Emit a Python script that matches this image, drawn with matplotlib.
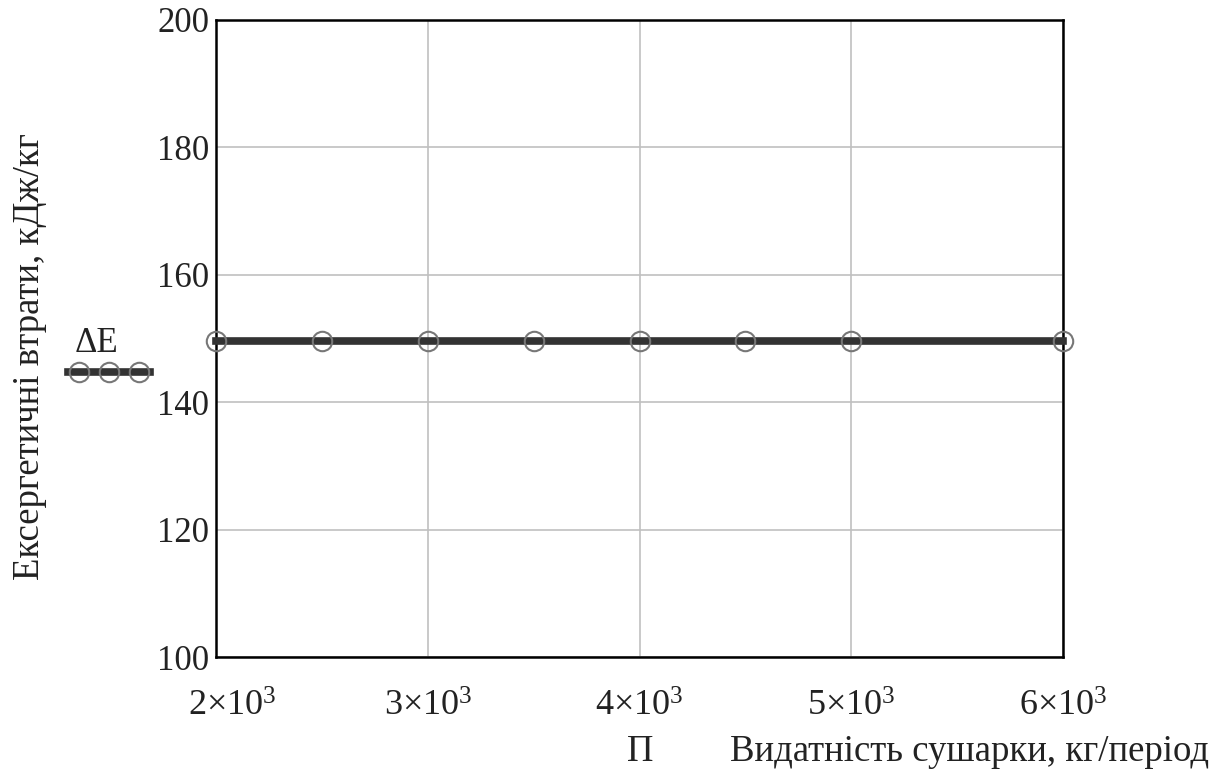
import matplotlib
matplotlib.use("Agg")
import matplotlib.pyplot as plt
from matplotlib.lines import Line2D
import matplotlib.transforms as mtransforms

plt.rcParams['font.family'] = ['Liberation Serif', 'DejaVu Serif']
plt.rcParams['mathtext.fontset'] = 'custom'
plt.rcParams['mathtext.rm'] = 'Liberation Serif'
plt.rcParams['mathtext.it'] = 'Liberation Serif'

# Data
x_vals = [2000, 2500, 3000, 3500, 4000, 4500, 5000, 6000]
dE_vals = [149.6, 149.6, 149.6, 149.6, 149.6, 149.6, 149.6, 149.6]
x_ticks = [2000, 3000, 4000, 5000, 6000]
x_tick_labels = [r'$2{\times}10^{3}$', r'$3{\times}10^{3}$', r'$4{\times}10^{3}$',
                 r'$5{\times}10^{3}$', r'$6{\times}10^{3}$']
y_ticks = [100, 120, 140, 160, 180, 200]
y_label = 'Ексергетичні втрати, кДж/кг'
x_label = 'Видатність сушарки, кг/період'
x_var = 'П'
series_name = 'ΔE'

FS = 25
FSL = 26.5
TXT = '#222222'

fig = plt.figure(figsize=(12.21, 7.76), dpi=100)
ax = fig.add_axes([216/1221, 1-657/776, (1063-216)/1221, (657-20)/776])

ax.plot(x_vals, dE_vals, color='#333333', lw=5.5, zorder=3,
        marker='o', markersize=14, markerfacecolor='none',
        markeredgecolor='#777777', markeredgewidth=1.5, clip_on=False)

ax.set_xlim(2000, 6000)
ax.set_ylim(100, 200)
ax.set_xticks(x_ticks)
ax.set_xticklabels(x_tick_labels, fontsize=FS + 1, color=TXT)
ax.set_yticks(y_ticks)
ax.set_yticklabels([str(v) for v in y_ticks], fontsize=FS, color=TXT)
ax.tick_params(axis='both', length=0)
ax.tick_params(axis='x', pad=24)
ax.tick_params(axis='y', pad=5)
ax.grid(True, color='#c0c0c0', lw=1.2, zorder=0)
for s in ax.spines.values():
    s.set_linewidth(1.8)
    s.set_color('black')

# shift first x tick label right as in reference
first = ax.get_xticklabels()[0]
first.set_transform(first.get_transform() + mtransforms.ScaledTranslation(0.16, 0, fig.dpi_scale_trans))

fig.text(30/1221, 1-357/776, y_label, rotation=90, fontsize=FSL,
         ha='center', va='center', color=TXT)
fig.text(640/1221, 1-752/776, x_var, fontsize=FSL, ha='center', va='center', color=TXT)
fig.text(730/1221, 1-752/776, x_label, fontsize=FSL, ha='left', va='center', color=TXT)

# Legend-like annotation
fig.text(97/1221, 1-343/776, series_name, fontsize=FS, ha='center', va='center', color=TXT)
leg_line = Line2D([68/1221, 150/1221], [1-372/776, 1-372/776], transform=fig.transFigure,
                  color='#333333', lw=5.5)
fig.add_artist(leg_line)
leg_marks = Line2D([79/1221, 109/1221, 139/1221], [1-372/776]*3, transform=fig.transFigure,
                   ls='none', marker='o', markersize=14, markerfacecolor='none',
                   markeredgecolor='#777777', markeredgewidth=1.5)
fig.add_artist(leg_marks)

fig.savefig('out.png', dpi=100)
